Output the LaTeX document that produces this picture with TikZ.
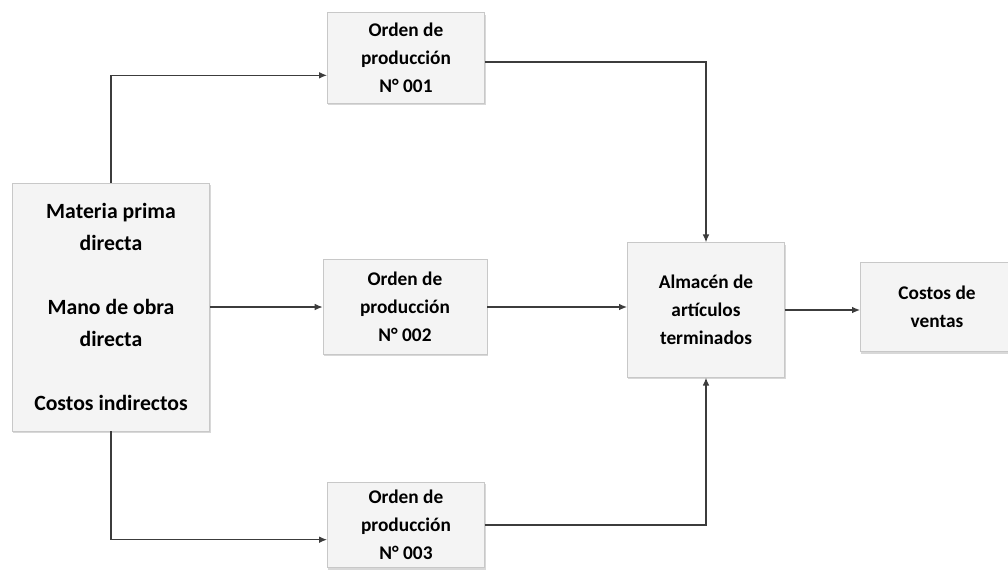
\documentclass[tikz,border=0pt]{standalone}
\usepackage{fontspec}
\setmainfont{Carlito}
\usetikzlibrary{arrows.meta,shadows}

\definecolor{boxfill}{HTML}{F4F4F4}
\definecolor{boxline}{HTML}{C8C8C8}
\definecolor{linegray}{HTML}{3C3C3C}

\tikzset{
    ordbox/.style={draw=boxline, fill=boxfill, inner sep=0pt, align=center,
        drop shadow={shadow xshift=0.8pt, shadow yshift=-1.6pt, fill=gray!60},
        font=\bfseries\fontsize{14.5}{21}\selectfont},
    flow/.style={draw=linegray, line width=1pt, -{Latex[length=6pt,width=5pt]}}
}

\begin{document}
\begin{tikzpicture}[x=0.75pt,y=-0.75pt]
    \clip (0,0) rectangle (1008,572);

%Cost elements

    \node[ordbox, minimum width=148pt, minimum height=186pt,
        font=\bfseries\fontsize{16.3}{24}\selectfont] (mp) at (111,307)
        {Materia prima\\directa\\[24pt]Mano de obra\\directa\\[24pt]Costos indirectos};

%Production orders

    \node[ordbox, minimum width=118pt, minimum height=68pt] (op1) at (406,58) {Orden de\\producción\\N° 001};
    \node[ordbox, minimum width=123pt, minimum height=71pt] (op2) at (405,307) {Orden de\\producción\\N° 002};
    \node[ordbox, minimum width=118pt, minimum height=64pt] (op3) at (406,525) {Orden de\\producción\\N° 003};

%Warehouse and cost of sales

    \node[ordbox, minimum width=118pt, minimum height=101pt] (alm) at (706,310) {Almacén de\\artículos\\terminados};
    \node[ordbox, minimum width=115pt, minimum height=67pt] (cv) at (937,307) {Costos de\\ventas};

%Flows

    \draw[flow] (mp.north) |- ([yshift=-13pt]op1.west);
    \draw[flow] (mp.east) -- (op2.west);
    \draw[flow] (mp.south) |- ([yshift=-11pt]op3.west);

    \draw[flow] ([yshift=-3pt]op1.east) -| (alm.north);
    \draw[flow] (op2.east) -- (op2.east -| alm.west);
    \draw[flow] (op3.east) -| (alm.south);

    \draw[flow] (alm.east) -- (alm.east -| cv.west);

\end{tikzpicture}
\end{document}
